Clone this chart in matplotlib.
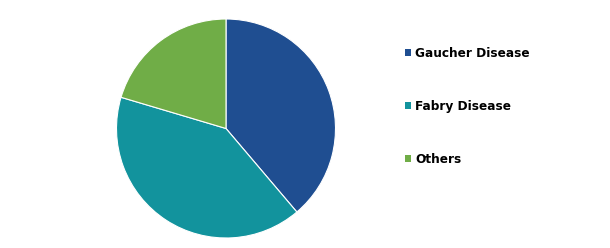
import matplotlib
matplotlib.use("Agg")
import matplotlib.pyplot as plt

labels = ["Gaucher Disease", "Fabry Disease", "Others"]
shares = [38.8, 40.8, 20.4]
colors = ["#1F4E91", "#12939D", "#70AD47"]

W, H = 610, 248
fig = plt.figure(figsize=(W / 100, H / 100), dpi=100)
fig.patch.set_facecolor("white")

cx, cy, r = 226, 128.5, 109.5
ax = fig.add_axes([(cx - r) / W, (H - cy - r) / H, 2 * r / W, 2 * r / H])
wedges, _ = ax.pie(shares, colors=colors, startangle=90, counterclock=False,
                   wedgeprops=dict(edgecolor="white", linewidth=0.8))
ax.set_aspect("equal")
ax.set_xlim(-1, 1)
ax.set_ylim(-1, 1)
ax.axis("off")

leg = fig.legend(wedges, labels, loc="upper left",
                 bbox_to_anchor=(405 / W, 1 - 47 / H),
                 frameon=False, borderpad=0, borderaxespad=0,
                 handlelength=0.5, handleheight=0.5, handletextpad=0.35,
                 labelspacing=3.3,
                 prop=dict(family="DejaVu Sans", weight="bold", size=8.7))
for h in leg.legend_handles:
    h.set_edgecolor("none")

fig.savefig("out.png", dpi=100, facecolor="white")
